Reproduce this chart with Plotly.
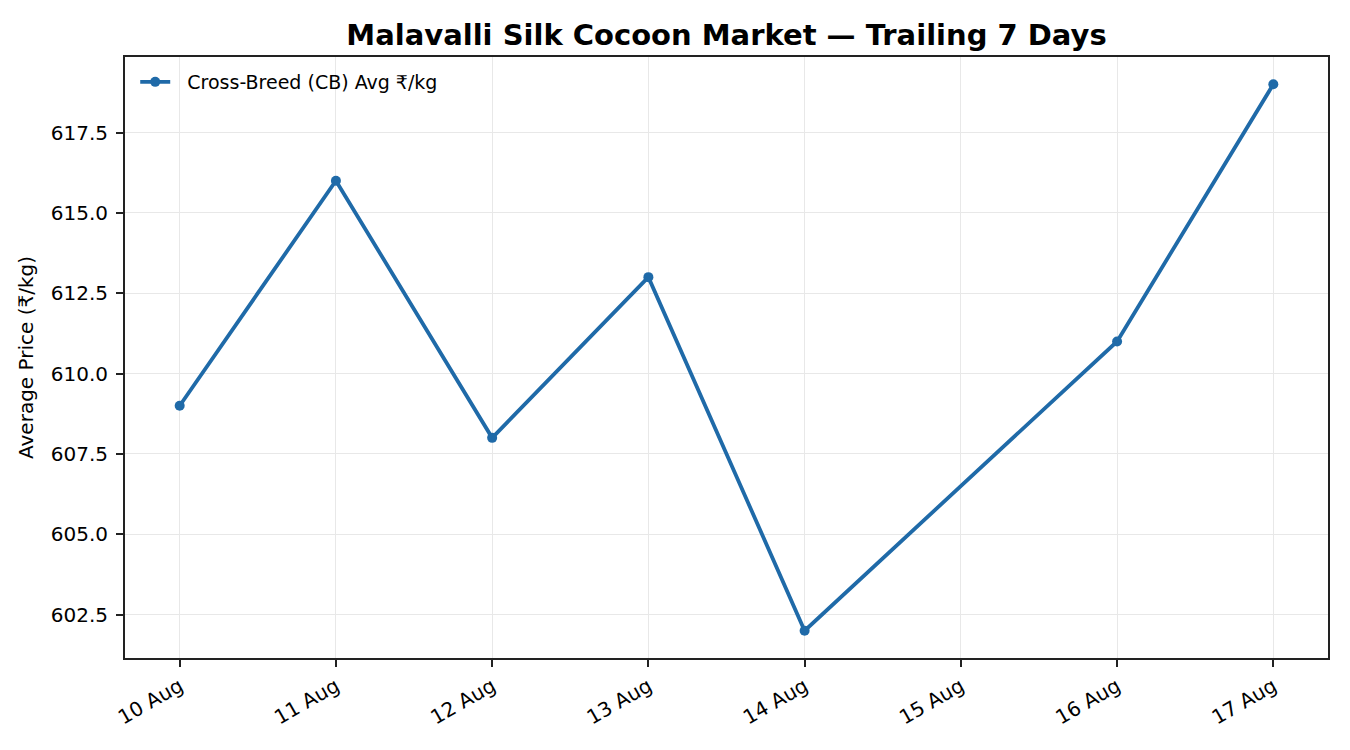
import plotly.graph_objects as go

dates = ["2024-08-10", "2024-08-11", "2024-08-12", "2024-08-13", "2024-08-14", "2024-08-16", "2024-08-17"]
prices = [609, 616, 608, 613, 602, 611, 619]
tick_dates = ["2024-08-10", "2024-08-11", "2024-08-12", "2024-08-13", "2024-08-14", "2024-08-15", "2024-08-16", "2024-08-17"]
tick_labels = ["10 Aug", "11 Aug", "12 Aug", "13 Aug", "14 Aug", "15 Aug", "16 Aug", "17 Aug"]
y_ticks = [602.5, 605.0, 607.5, 610.0, 612.5, 615.0, 617.5]

color = "#1f6aa8"
font = "DejaVu Sans, Noto Sans, sans-serif"

fig = go.Figure()
fig.add_trace(go.Scatter(
    x=dates, y=prices, mode="lines+markers",
    name="\u00a0\u00a0Cross-Breed (CB) Avg ₹/kg",
    line=dict(color=color, width=3.8),
    marker=dict(color=color, size=10),
))

fig.update_layout(
    width=1350, height=750,
    paper_bgcolor="white", plot_bgcolor="white",
    margin=dict(l=125, r=22, t=57, b=92),
    font=dict(family=font, size=20, color="black"),
    title=dict(text="<b>Malavalli Silk Cocoon Market — Trailing 7 Days</b>",
               x=0.5, xref="paper", y=1 - 35 / 750, yanchor="middle",
               font=dict(size=29, family=font, color="black")),
    showlegend=True,
    legend=dict(x=0.0085, y=0.99, xanchor="left", yanchor="top",
                bgcolor="rgba(255,255,255,0)", font=dict(size=19, family=font)),
)

axis_common = dict(
    showgrid=True, gridcolor="#e8e8e8", gridwidth=1.2,
    showline=True, linecolor="#222222", linewidth=1.8, mirror=True,
    ticks="outside", ticklen=7, tickwidth=1.6, tickcolor="#222222",
    zeroline=False, tickfont=dict(size=20, family=font, color="black"),
)

fig.update_xaxes(
    type="date",
    range=["2024-08-09 15:36", "2024-08-17 08:24"],
    tickmode="array", tickvals=tick_dates, ticktext=tick_labels,
    tickangle=-30, ticklabelstandoff=0,
    **axis_common,
)
fig.update_yaxes(
    range=[601.15, 619.85],
    tickmode="array", tickvals=y_ticks, ticktext=[f"{v:.1f}" for v in y_ticks],
    ticklabelstandoff=4,
    title=dict(text="Average Price (₹/kg)", font=dict(size=20, family=font), standoff=12),
    **axis_common,
)

fig.write_html("out.html", config={"displayModeBar": False},
               post_script="document.body.style.margin='0';document.body.style.overflow='hidden';")
